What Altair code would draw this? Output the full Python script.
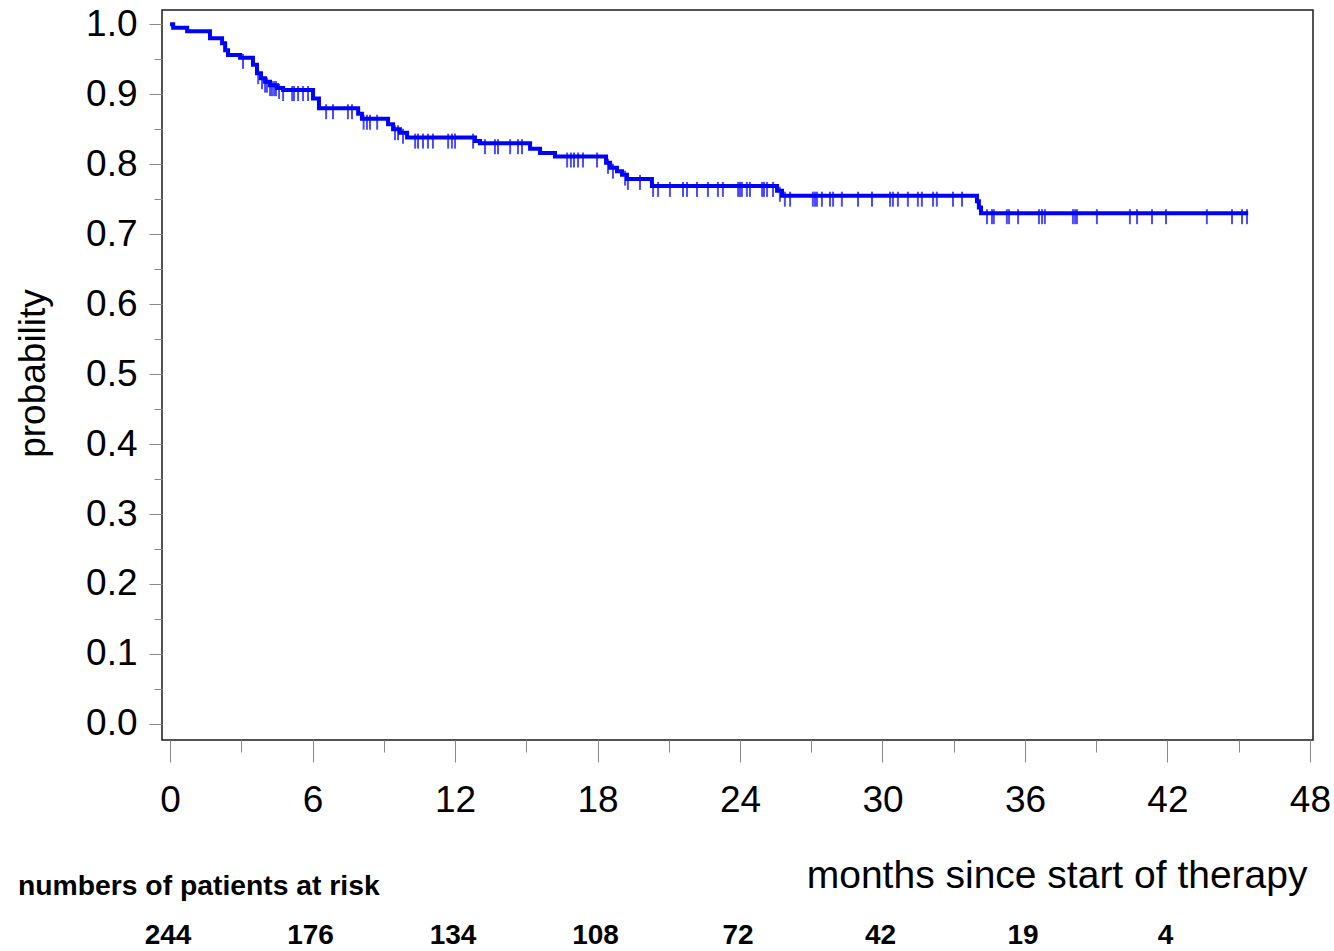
import altair as alt
import pandas as pd
import numpy as np

# Kaplan-Meier step points: month of drop and survival after the drop
step_months = [0.0, 0.13, 0.72, 1.68, 2.19, 2.32, 2.44, 2.95, 3.49, 3.66, 3.83, 4.00,
               4.21, 4.51, 4.76, 6.02, 6.27, 7.92, 8.08, 9.18, 9.39, 9.68, 9.98,
               12.84, 13.05, 15.16, 15.58, 16.21, 18.36, 18.53, 18.82, 19.03, 19.24,
               20.29, 25.56, 25.77, 33.98, 34.06, 34.15]
step_surv = [1.000, 0.995, 0.990, 0.980, 0.973, 0.963, 0.956, 0.952, 0.942, 0.930, 0.923, 0.918,
             0.913, 0.909, 0.906, 0.894, 0.880, 0.872, 0.865, 0.857, 0.850, 0.845, 0.838,
             0.833, 0.830, 0.822, 0.816, 0.811, 0.802, 0.795, 0.790, 0.785, 0.779,
             0.769, 0.762, 0.755, 0.747, 0.738, 0.730]
end_month = 45.4

# censored observations (months)
censor_months = [3.07, 3.71, 3.87, 4.00, 4.08, 4.21, 4.29, 4.38, 4.46, 4.59,
                 4.76, 5.14, 5.22, 5.39, 5.60, 5.81,
                 6.57, 6.86, 7.49, 7.66, 8.15, 8.29, 8.42, 8.72,
                 9.47, 9.60, 9.81, 10.32, 10.44, 10.65, 10.86, 11.07, 11.71, 11.87, 12.00, 12.76,
                 13.26, 13.68, 13.81, 14.32, 14.65, 14.82,
                 16.72, 16.88, 17.01, 17.18, 17.39, 17.98,
                 18.44, 18.65, 19.16, 19.28, 19.79,
                 20.34, 20.55, 21.05, 21.60, 21.77, 22.19, 22.65, 23.07, 23.28, 23.92, 24.00,
                 24.08, 24.29, 24.42, 24.93, 25.01, 25.14, 25.39,
                 25.68, 25.89, 26.11, 27.07, 27.16, 27.24, 27.45, 27.79, 27.92, 28.29, 28.97,
                 29.56, 30.32, 30.44, 30.65, 31.07, 31.49, 31.66, 32.13, 32.29, 32.97, 33.35,
                 34.40, 34.61, 34.69, 35.24, 35.33, 35.71, 36.59, 36.72, 36.84, 38.02, 38.11,
                 38.19, 39.03, 40.42, 40.72, 41.35, 41.94, 43.66, 44.72, 45.14, 45.35]

risk_months = [0, 6, 12, 18, 24, 30, 36, 42]
risk_counts = ["244", "176", "134", "108", "72", "42", "19", "4"]

x_major = [0, 6, 12, 18, 24, 30, 36, 42, 48]
x_minor = [3, 9, 15, 21, 27, 33, 39, 45]
y_major = [0.0, 0.1, 0.2, 0.3, 0.4, 0.5, 0.6, 0.7, 0.8, 0.9, 1.0]
y_minor = [0.05, 0.15, 0.25, 0.35, 0.45, 0.55, 0.65, 0.75, 0.85, 0.95]

line_df = pd.DataFrame({"month": step_months + [end_month],
                        "surv": step_surv + [step_surv[-1]]})
idx = np.searchsorted(np.array(step_months), np.array(censor_months), side="right") - 1
cens_df = pd.DataFrame({"month": censor_months, "surv": [step_surv[i] for i in idx]})
risk_df = pd.DataFrame({"month": risk_months, "n": risk_counts})
head_df = pd.DataFrame({"t": ["numbers of patients at risk"]})

FONT = "Liberation Sans"
BLUE = "#0000ff"
FRAME = "#1a1a1a"
W, H = 1151, 730

xscale = alt.Scale(domain=[-0.34, 48.13], nice=False, zero=False)
yscale = alt.Scale(domain=[-0.023, 1.0204], nice=False, zero=False)

line = alt.Chart(line_df).mark_line(interpolate="step-after", color=BLUE, strokeWidth=4).encode(
    x=alt.X("month:Q", scale=xscale,
            axis=alt.Axis(orient="bottom", values=x_major, format="d", tickSize=22,
                          labelPadding=20, labelFontSize=37, grid=False, domain=False,
                          title="months since start of therapy", titleFontSize=39,
                          titleFontWeight="normal", titleX=1145, titleY=147,
                          titleAlign="right", titleBaseline="alphabetic", titleAngle=0)),
    y=alt.Y("surv:Q", scale=yscale,
            axis=alt.Axis(orient="left", values=y_major, format=".1f", tickSize=13,
                          labelPadding=12, labelFontSize=37, grid=False, domain=False,
                          title="probability", titleFontSize=37, titleFontWeight="normal",
                          titleX=-129, titleY=363, titleAngle=270, titleAlign="center",
                          titleBaseline="middle")),
)

cens = alt.Chart(cens_df).mark_tick(orient="vertical", size=15, thickness=2, color=BLUE,
                                    yOffset=3.5).encode(
    x=alt.X("month:Q", scale=xscale,
            axis=alt.Axis(orient="bottom", values=x_minor, tickSize=12, labels=False,
                          grid=False, domain=False, title=None)),
    y=alt.Y("surv:Q", scale=yscale,
            axis=alt.Axis(orient="left", values=y_minor, tickSize=8, labels=False,
                          grid=False, domain=False, title=None)),
)

head = alt.Chart(head_df).mark_text(font=FONT, fontSize=28.3, fontWeight="bold", align="left",
                                    baseline="alphabetic", color="black").encode(
    x=alt.value(-144), y=alt.value(885), text="t:N")

risk = alt.Chart(risk_df).mark_text(font=FONT, fontSize=28, fontWeight="bold", align="center",
                                    baseline="alphabetic", color="black", dx=-2).encode(
    x=alt.X("month:Q", scale=xscale, axis=None), y=alt.value(934), text="n:N")

chart = alt.layer(line, cens, head, risk).resolve_axis(
    x="independent", y="independent"
).properties(
    width=W, height=H,
    autosize=alt.AutoSizeParams(type="none"),
    padding={"left": 162, "top": 10, "right": 21, "bottom": 211},
    view=alt.ViewBackground(stroke=FRAME, strokeWidth=1.5, fill="white"),
).configure_view(
    stroke=FRAME, strokeWidth=1.5
).configure_axis(
    labelFont=FONT, titleFont=FONT, labelColor="black", titleColor="black",
    tickColor=FRAME, tickWidth=1.5
).configure(background="white")

chart.save("out.html", embed_options={"renderer": "svg", "actions": False})
